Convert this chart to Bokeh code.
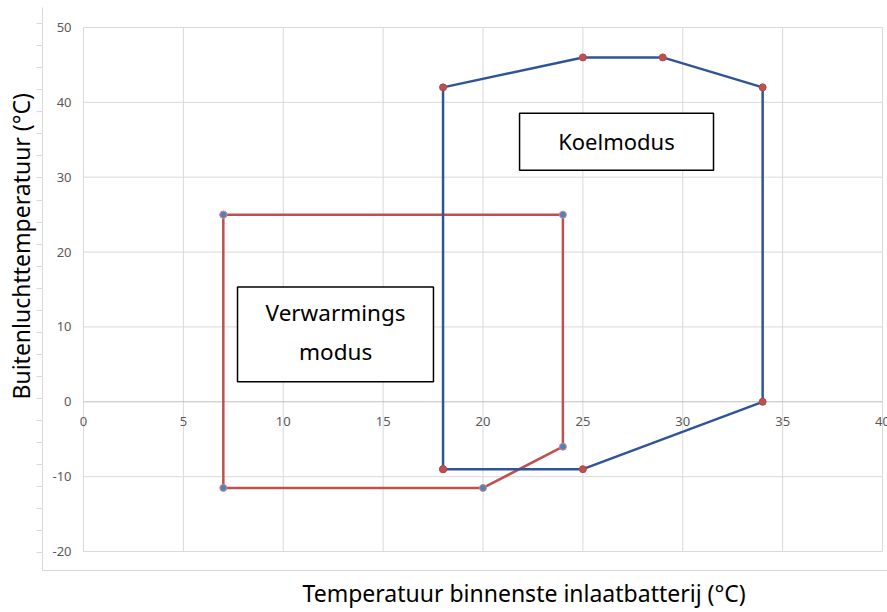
from bokeh.plotting import figure
from bokeh.models import (Range1d, LinearAxis, FixedTicker, SingleIntervalTicker,
                          ColumnDataSource, Label, BoxAnnotation, Title,
                          CustomJSTickFormatter)
from bokeh.core.properties import value
from bokeh.embed import file_html
from bokeh.resources import INLINE

# ---- data ----
koel_x = [18, 18, 25, 29, 34, 34, 25, 18]
koel_y = [-9, 42, 46, 46, 42, 0, -9, -9]
warm_x = [7, 24, 24, 20, 7, 7]
warm_y = [25, 25, -6, -11.5, -11.5, 25]
x_ticks = [0, 5, 10, 15, 20, 25, 30, 35, 40]
y_ticks = [-20, -10, 0, 10, 20, 30, 40, 50]
x_title = "Temperatuur binnenste inlaatbatterij (°C)"
y_title = "Buitenluchttemperatuur (°C)"
label_koel = "Koelmodus"
label_warm = ["Verwarmings", "modus"]

FONT = "Noto Sans"
GRID = "#D9D9D9"
TICKC = "#595959"
BLUE = "#2F5597"
RED = "#C0504D"
MBLUE = "#4F81BD"

p = figure(width=887, height=612, output_backend="svg", toolbar_location=None,
           x_range=Range1d(-2.0526, 40.25), y_range=Range1d(-22.533, 52.667),
           min_border_left=42, min_border_right=0, min_border_top=7, min_border_bottom=41,
           x_axis_location=None, y_axis_location=None)
p.outline_line_color = None
p.xgrid.visible = False
p.ygrid.visible = False

# decorative outer axes (Excel chart-area frame)
p.extra_y_ranges = {"deco": Range1d(-0.8156, 24.739)}
deco = LinearAxis(y_range_name="deco", ticker=SingleIntervalTicker(interval=1),
                  formatter=CustomJSTickFormatter(code="return ''"),
                  major_tick_out=6, major_tick_in=0,
                  minor_tick_line_color=None, axis_line_color=GRID,
                  major_tick_line_color=GRID, major_label_standoff=0)
p.add_layout(deco, "left")
bottom = LinearAxis(ticker=FixedTicker(ticks=[]), major_tick_line_color=None,
                    minor_tick_line_color=None, axis_line_color=GRID,
                    major_label_standoff=0)
p.add_layout(bottom, "below")

# axis titles
p.add_layout(Title(text=x_title, align="left", offset=260, standoff=8,
                   text_font=FONT, text_font_size="23px", text_font_style="normal",
                   text_color="black"), "below")
p.add_layout(Title(text=y_title, align="left", offset=171, standoff=0,
                   text_font=FONT, text_font_size="23px", text_font_style="normal",
                   text_color="black"), "left")

ymin, ymax = min(y_ticks), max(y_ticks)
xmin, xmax = min(x_ticks), max(x_ticks)

# gridlines of the plot area
p.segment(x0=x_ticks, y0=[ymin] * len(x_ticks), x1=x_ticks, y1=[ymax] * len(x_ticks),
          line_color=GRID, line_width=1)
gy = [v for v in y_ticks if v != 0]
p.segment(x0=[xmin] * len(gy), y0=gy, x1=[xmax] * len(gy), y1=gy,
          line_color=GRID, line_width=1)
p.segment(x0=[xmin], y0=[0], x1=[xmax], y1=[0], line_color="#BFBFBF", line_width=1)

# tick labels
xs = ColumnDataSource(dict(x=x_ticks, y=[0] * len(x_ticks), t=[str(v) for v in x_ticks]))
p.text(x="x", y="y", text="t", source=xs, y_offset=20, text_align="center",
       text_baseline="middle", text_font=value(FONT), text_font_size="13px",
       text_color=TICKC)
ys = ColumnDataSource(dict(x=[0] * len(y_ticks), y=y_ticks, t=[str(v) for v in y_ticks]))
p.text(x="x", y="y", text="t", source=ys, x_offset=-12, text_align="right",
       text_baseline="middle", text_font=value(FONT), text_font_size="13px",
       text_color=TICKC)

# series
p.line(warm_x, warm_y, line_color=RED, line_width=2.5)
p.scatter(warm_x, warm_y, size=7, fill_color=MBLUE, line_color="#D08A8A", line_width=1)
p.line(koel_x, koel_y, line_color=BLUE, line_width=2.5)
p.scatter(koel_x, koel_y, size=7, fill_color=RED, line_color="#B04848", line_width=1)

# text boxes
p.add_layout(BoxAnnotation(left=21.83, right=31.54, bottom=30.93, top=38.53,
                           fill_color="white", fill_alpha=1, line_color="black",
                           line_alpha=1, line_width=1.5))
p.add_layout(BoxAnnotation(left=7.71, right=17.52, bottom=2.67, top=15.33,
                           fill_color="white", fill_alpha=1, line_color="black",
                           line_alpha=1, line_width=1.5))
p.add_layout(Label(x=26.68, y=34.8, text=label_koel, text_align="center",
                   text_baseline="middle", text_font=FONT, text_font_size="22px",
                   text_color="black"))
p.add_layout(Label(x=12.62, y=11.87, text=label_warm[0], text_align="center",
                   text_baseline="middle", text_font=FONT, text_font_size="22.5px",
                   text_color="black"))
p.add_layout(Label(x=12.62, y=6.67, text=label_warm[1], text_align="center",
                   text_baseline="middle", text_font=FONT, text_font_size="22.5px",
                   text_color="black"))

open("out.html", "w").write(file_html(p, INLINE))
